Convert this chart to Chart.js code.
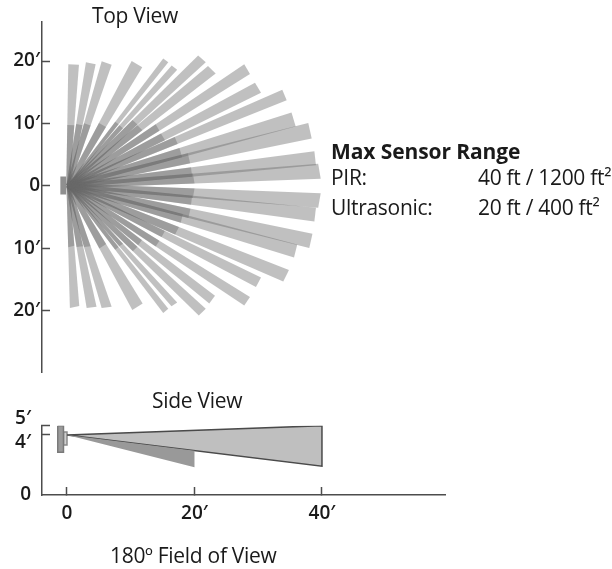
<!DOCTYPE html>
<html>
<head>
<meta charset="utf-8">
<title>Sensor Coverage</title>
<script src="https://cdn.jsdelivr.net/npm/chart.js@4/dist/chart.umd.min.js"></script>
<style>
  html, body { margin: 0; background: #fff; }
  body { position: relative; width: 612px; height: 569px; overflow: hidden; font-family: "Open Sans", sans-serif; color: #1a1a1a; }
  canvas { position: absolute; left: 0; top: 0; }
  .label { position: absolute; white-space: nowrap; font-size: 21px; line-height: 22px; letter-spacing: -0.3px; }
  .heading { font-weight: 700; letter-spacing: -0.1px; }
</style>
</head>
<body>
<canvas id="topChart" width="612" height="569"></canvas>
<canvas id="sideChart" width="612" height="569"></canvas>

<div class="label" style="left:92px;top:4px">Top View</div>
<div class="label" style="left:152px;top:389px">Side View</div>
<div class="label" style="left:110px;top:544px">180º Field of View</div>
<div class="label heading" style="left:331px;top:140px">Max Sensor Range</div>
<div class="label" style="left:331px;top:166px">PIR:</div>
<div class="label" style="left:478px;top:166px">40 ft / 1200 ft²</div>
<div class="label" style="left:331px;top:196px">Ultrasonic:</div>
<div class="label" style="left:478px;top:196px">20 ft / 400 ft²</div>

<script>
// Top view: the two outer corners of each PIR beam, in feet, going clockwise from straight up
const pirCornerAX = [0.05, 2.83, 5.31, 10.03, 15.0, 16.33, 20.5, 22.05, 27.76, 29.45, 33.75, 35.2, 37.84, 38.8, 39.4,
  39.8, 39.05, 38.5, 36.1, 34.8, 30.4, 28.66, 23.15, 21.7, 17.2, 15.8, 11.76, 6.88, 4.5, 1.78];
const pirCornerAY = [19.5, 19.8, 19.95, 20.0, 20.4, 19.3, 20.9, 19.2, 19.5, 16.5, 15.4, 11.75, 10.05, 5.55, 3.55,
  -1.2, -3.5, -7.7, -9.4, -13.5, -14.7, -17.8, -17.6, -19.7, -18.7, -19.7, -18.85, -19.4, -19.4, -19.25];
const pirCornerBX = [1.73, 4.36, 6.88, 11.7, 15.8, 17.2, 21.7, 23.26, 28.66, 30.4, 34.44, 35.86, 38.38, 39.05, 39.8,
  39.4, 38.8, 38.0, 35.6, 33.9, 29.6, 27.76, 22.25, 20.6, 16.3, 15.0, 10.13, 5.3, 2.94, 0.3];
const pirCornerBY = [19.4, 19.5, 19.4, 19.0, 19.8, 18.6, 19.8, 18.0, 17.9, 14.9, 13.7, 9.5, 7.6, 3.3, 1.15,
  -3.5, -5.7, -9.95, -11.5, -15.35, -16.2, -19.2, -18.85, -20.8, -19.3, -20.4, -19.9, -19.6, -19.6, -19.6];
const pirRange = 40;
const ultrasonicRange = 20;
const topTicks = [20, 10, 0, -10, -20];
const topSensorX = [-1.2, -0.3, -0.3, -1.2, -1.2];
const topSensorY = [1.5, 1.5, -1.4, -1.4, 1.5];

// Side view (feet)
const sidePirX = [0, 40, 40, 0];
const sidePirY = [4.33, 5.0, 2.08, 4.33];
const sideUltrasonicX = [0, 20, 20, 0];
const sideUltrasonicY = [4.33, 3.2, 2.0, 4.33];
const sideBackplateX = [-1.45, -0.55, -0.55, -1.45, -1.45];
const sideBackplateY = [5.0, 5.0, 3.08, 3.08, 5.0];
const sideHousingX = [-0.55, 0, 0, -0.55, -0.55];
const sideHousingY = [4.55, 4.55, 3.6, 3.6, 4.55];
const sideTicksY = [5, 4.33, 0];
const sideTickLabelsY = [['5′', ''], ['', '4′'], ['0']];
const sideTicksX = [0, 20, 40];
const sideTickLabelsX = ['0', '20′', '40′'];

const AXIS_COLOR = '#4d4d4d';
const TICK_FONT = { family: '"Open Sans", sans-serif', size: 19, weight: '600' };
const BEAM_FILL = 'rgba(105,105,105,0.42)';
const ULTRASONIC_FILL = 'rgba(90,90,90,0.36)';
// beams keep some width at the sensor, they are not true wedges
const BASE_WIDTH_SHARE = 0.32;

function zip(xs, ys) {
  return xs.map((x, i) => ({ x: x, y: ys[i] }));
}

function polygon(points, fillColor, lineColor) {
  return {
    data: points,
    showLine: true,
    fill: 'shape',
    tension: 0,
    pointRadius: 0,
    backgroundColor: fillColor,
    borderColor: lineColor || 'rgba(0,0,0,0)',
    borderWidth: lineColor ? 1.5 : 0
  };
}

// one beam, cut off at "reach" (1 = full PIR length)
function beam(i, reach, fillColor) {
  const ax = pirCornerAX[i], ay = pirCornerAY[i];
  const bx = pirCornerBX[i], by = pirCornerBY[i];
  const baseX = (ax - bx) / 2 * BASE_WIDTH_SHARE;
  const baseY = (ay - by) / 2 * BASE_WIDTH_SHARE;
  return polygon([
    { x: baseX, y: baseY },
    { x: baseX + (ax - baseX) * reach, y: baseY + (ay - baseY) * reach },
    { x: -baseX + (bx + baseX) * reach, y: -baseY + (by + baseY) * reach },
    { x: -baseX, y: -baseY },
    { x: baseX, y: baseY }
  ], fillColor);
}

const topDatasets = [];
pirCornerAX.forEach((ax, i) => topDatasets.push(beam(i, 1, BEAM_FILL)));
pirCornerAX.forEach((ax, i) => topDatasets.push(beam(i, ultrasonicRange / pirRange, ULTRASONIC_FILL)));
topDatasets.push(polygon(zip(topSensorX, topSensorY), '#8f8f8f'));

function fixedTicks(values) {
  return function (scale) {
    scale.ticks = values.map(v => ({ value: v }));
  };
}

new Chart(document.getElementById('topChart'), {
  type: 'scatter',
  data: { datasets: topDatasets },
  options: {
    responsive: false,
    animation: false,
    layout: { padding: { top: 18, bottom: 197, left: 0, right: 0 } },
    plugins: { legend: { display: false }, tooltip: { enabled: false } },
    scales: {
      x: { display: false, min: -4.09, max: 85.67 },
      y: {
        min: -29.84,
        max: 26.35,
        afterFit: function (scale) { scale.width = 42; },
        afterBuildTicks: fixedTicks(topTicks),
        border: { color: AXIS_COLOR, width: 1.5 },
        grid: { drawOnChartArea: false, tickLength: -8, tickColor: AXIS_COLOR, tickWidth: 1.5 },
        ticks: {
          color: '#1a1a1a',
          font: TICK_FONT,
          padding: 10,
          callback: function (value) { return value === 0 ? '0' : Math.abs(value) + '′'; }
        }
      }
    }
  }
});

new Chart(document.getElementById('sideChart'), {
  type: 'scatter',
  data: {
    datasets: [
      polygon(zip(sideUltrasonicX, sideUltrasonicY), '#999999'),
      polygon(zip(sidePirX, sidePirY), 'rgba(170,170,170,0.75)', '#4a4a4a'),
      polygon(zip(sideBackplateX, sideBackplateY), '#9a9a9a', '#7a7a7a'),
      polygon(zip(sideHousingX, sideHousingY), '#d0d0d0', '#8a8a8a')
    ]
  },
  options: {
    responsive: false,
    animation: false,
    layout: { padding: { top: 425.7, right: 167, left: 0, bottom: 0 } },
    plugins: { legend: { display: false }, tooltip: { enabled: false } },
    scales: {
      x: {
        min: -3.92,
        max: 59.3,
        afterFit: function (scale) { scale.height = 74; },
        afterBuildTicks: fixedTicks(sideTicksX),
        border: { color: AXIS_COLOR, width: 1.5 },
        grid: { drawOnChartArea: false, tickLength: -8, tickColor: AXIS_COLOR, tickWidth: 1.5 },
        ticks: {
          color: '#1a1a1a',
          font: TICK_FONT,
          padding: 15,
          maxRotation: 0,
          autoSkip: false,
          callback: function (value, index) { return sideTickLabelsX[index]; }
        }
      },
      y: {
        min: 0,
        max: 5,
        afterFit: function (scale) { scale.width = 42; },
        afterBuildTicks: fixedTicks(sideTicksY),
        border: { color: AXIS_COLOR, width: 1.5 },
        grid: {
          drawOnChartArea: false,
          tickLength: -8,
          tickWidth: 1.5,
          // no tick mark at 0, the x axis runs there
          tickColor: function (ctx) { return ctx.tick && ctx.tick.value === 0 ? 'rgba(0,0,0,0)' : AXIS_COLOR; }
        },
        ticks: {
          color: '#1a1a1a',
          font: Object.assign({}, TICK_FONT, { lineHeight: 0.75 }),
          padding: 19,
          autoSkip: false,
          callback: function (value, index) { return sideTickLabelsY[index]; }
        }
      }
    }
  }
});
</script>
</body>
</html>
